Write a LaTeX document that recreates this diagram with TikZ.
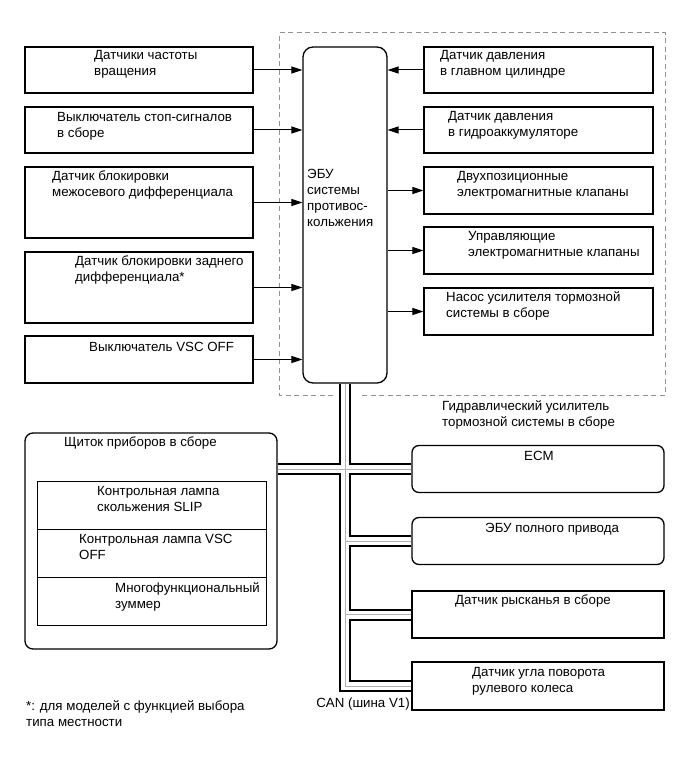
\documentclass[tikz,border=0pt]{standalone}
\usepackage{fontspec}
\setmainfont{Liberation Sans}
\usetikzlibrary{positioning,arrows.meta}

\begin{document}
\begin{tikzpicture}[
  x=1pt, y=-1pt,
  >={Triangle[length=11pt,width=7pt]},
  every node/.style={font=\fontsize{13.3}{16}\selectfont},
  blk/.style={draw, line width=1.3pt, inner sep=0pt},
  lbox/.style={blk, minimum width=228pt},
  rbox/.style={blk, minimum width=229pt, minimum height=46pt},
  nbox/.style={blk, minimum width=252pt, minimum height=47pt},
  rnd/.style={rounded corners=7pt},
  txt/.style={anchor=base west, inner sep=0pt, align=left},
  e/.style={->, line width=1pt},
  frame/.style={draw=gray!85, dashed, dash pattern=on 5pt off 3.5pt, line width=1pt},
  bus/.style={draw=gray!60, line width=0.8pt, line join=miter,
    preaction={draw=black, line width=12pt, line join=miter},
    preaction={draw=white, line width=8pt, line join=miter}}
]
\useasboundingbox (0,0) rectangle (691,757);

% sensors / switches on the left
\node[lbox, minimum height=46pt] (wss) at (139,70) {};
\node[lbox, minimum height=46pt] (stop) at (139,130) {};
\node[lbox, minimum height=71pt] (cdl) at (139,202.5) {};
\node[lbox, minimum height=71pt] (rdl) at (139,287.5) {};
\node[lbox, minimum height=47pt] (vsc) at (139,359.5) {};
% (base of a two-line label = its last line)
\node[txt] (wssT) at (94,76) {Датчики частоты\\вращения};
\node[txt] (stopT) at (57,137) {Выключатель стоп-сигналов\\в сборе};
\node[txt] (cdlT) at (52,196.5) {Датчик блокировки\\межосевого дифференциала};
\node[txt] (rdlT) at (75,281.5) {Датчик блокировки заднего\\дифференциала*};
\node[txt] (vscT) at (89,351) {Выключатель VSC OFF};

% brake actuator (dashed frame)
\draw[frame] (333,395) -| (279,33) -| (665,395) -- (359,395);
\node[blk, rounded corners=10pt, minimum width=84pt, minimum height=336pt] (ecu) at (345,215) {};
\node[txt] (ecuT) at (307,226) {ЭБУ\\системы\\противос-\\кольжения};
\node[rbox] (mcs) at (538.5,70) {};
\node[rbox] (acc) at (538.5,130) {};
\node[rbox, minimum height=47pt] (sol) at (538.5,190.5) {};
\node[rbox, minimum height=47pt] (lin) at (538.5,250.5) {};
\node[rbox, minimum height=47pt] (pump) at (538.5,311.5) {};
\node[txt] (mcsT) at (440,76) {Датчик давления\\в главном цилиндре};
\node[txt] (accT) at (448,136) {Датчик давления\\в гидроаккумуляторе};
\node[txt] (solT) at (457,196) {Двухпозиционные\\электромагнитные клапаны};
\node[txt] (linT) at (468,256.5) {Управляющие\\электромагнитные клапаны};
\node[txt] (pumpT) at (446,317.5) {Насос усилителя тормозной\\системы в сборе};
\node[txt] (hydT) at (442,426.5) {Гидравлический усилитель\\тормозной системы в сборе};

\draw[e] (wss.east) -- (wss.east -| ecu.west);
\draw[e] (stop.east) -- (stop.east -| ecu.west);
\draw[e] (cdl.east) -- (cdl.east -| ecu.west);
\draw[e] (rdl.east) -- (rdl.east -| ecu.west);
\draw[e] (vsc.east) -- (vsc.east -| ecu.west);
\draw[e] (mcs.west) -- (mcs.west -| ecu.east);
\draw[e] (acc.west) -- (acc.west -| ecu.east);
\draw[e] (sol.west -| ecu.east) -- (sol.west);
\draw[e] (lin.west -| ecu.east) -- (lin.west);
\draw[e] (pump.west -| ecu.east) -- (pump.west);

% combination meter
\node[blk, rounded corners=8pt, minimum width=252pt, minimum height=216pt] (meter) at (151,541) {};
\node[txt] (meterT) at (64,446.5) {Щиток приборов в сборе};
\node[blk, line width=1pt, minimum width=229pt, minimum height=48pt] (slip) at (151.5,505) {};
\node[blk, line width=1pt, minimum width=229pt, minimum height=48pt] (vscl) at (151.5,553) {};
\node[blk, line width=1pt, minimum width=229pt, minimum height=48pt] (buzz) at (151.5,601) {};
\node[txt] (slipT) at (97,511.5) {Контрольная лампа\\скольжения SLIP};
\node[txt] (vsclT) at (79,559.7) {Контрольная лампа VSC\\OFF};
\node[txt] (buzzT) at (115,608) {Многофункциональный\\зуммер};

% CAN nodes
\node[nbox, rnd] (ecm) at (538,469) {};
\node[nbox, rnd] (awd) at (538,541) {};
\node[nbox] (yaw) at (538,614.5) {};
\node[nbox, minimum height=48pt] (steer) at (538,686) {};
\node[txt] (ecmT) at (524,460) {ECM};
\node[txt] (awdT) at (485,532.7) {ЭБУ полного привода};
\node[txt] (yawT) at (455,604.5) {Датчик рысканья в сборе};
\node[txt] (steerT) at (472,692) {Датчик угла поворота\\рулевого колеса};
\node[anchor=base east, inner sep=0pt] (can) at (410,707.5) {CAN (шина V1)};

\draw[bus] ([yshift=-0.7pt]ecu.south) -- (ecu.south |- steer.west) -- ([xshift=-0.7pt]steer.west)
  ([xshift=0.7pt]meter.east |- ecm.west) -- ([xshift=-0.7pt]ecm.west)
  (ecu.south |- awd.west) -- ([xshift=-0.7pt]awd.west)
  (ecu.south |- yaw.west) -- ([xshift=-0.7pt]yaw.west);

\node[txt] (note) at (26,726) {*: для моделей с функцией выбора\\типа местности};
\end{tikzpicture}
\end{document}
